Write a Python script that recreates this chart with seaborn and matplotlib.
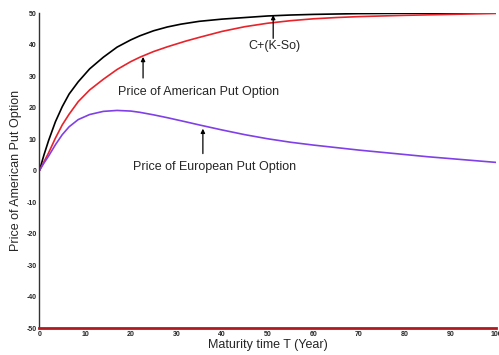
import numpy as np
import pandas as pd
import seaborn as sns
import matplotlib.pyplot as plt
from matplotlib.ticker import FuncFormatter

sns.set_style('white')
plt.rcParams['font.family'] = ['Liberation Sans', 'DejaVu Sans']

# values
bound_t = [0, 1, 2, 3.5, 5, 6.5, 8.5, 11, 14, 17, 20, 22, 25, 28, 31, 35, 40, 45, 50, 55, 60, 70, 80, 90, 100]
bound_p = [0, 5, 9.5, 15.5, 20.3, 24.3, 28.2, 32.3, 36, 39.2, 41.5, 42.8, 44.4, 45.6, 46.5, 47.4, 48.1,
           48.6, 49.1, 49.4, 49.6, 49.85, 49.95, 50, 50]

amer_t = [0, 2, 3.5, 5, 6.5, 8.5, 11, 14, 17, 20, 22, 25, 28, 32, 35, 40, 45, 50, 55, 60, 65, 70, 80, 90, 100]
amer_p = [0, 5.6, 10.3, 14.5, 17.9, 21.9, 25.6, 29, 32.1, 34.6, 36, 37.8, 39.3, 41.1, 42.3, 44.2, 45.7,
          46.8, 47.6, 48.2, 48.6, 48.9, 49.3, 49.6, 49.9]

euro_t = [0, 1, 2, 3.5, 5, 6.5, 8.5, 11, 14, 17, 20, 22, 25, 28, 32, 35, 40, 45, 50, 55, 60, 65, 70,
          75, 80, 85, 90, 95, 100]
euro_p = [0, 2.4, 4.6, 8.2, 11.4, 13.9, 16.2, 17.8, 18.8, 19.1, 18.9, 18.5, 17.7, 16.8, 15.5, 14.5, 12.9,
          11.4, 10.1, 9.0, 8.1, 7.3, 6.5, 5.8, 5.1, 4.4, 3.8, 3.2, 2.6]

names = ['C+(K-So)', 'American', 'European']
df = pd.concat([
    pd.DataFrame({'T': bound_t, 'price': bound_p, 'series': names[0]}),
    pd.DataFrame({'T': amer_t, 'price': amer_p, 'series': names[1]}),
    pd.DataFrame({'T': euro_t, 'price': euro_p, 'series': names[2]}),
])

fig = plt.figure(figsize=(4.99, 3.55), dpi=100)
ax = fig.add_axes([0.079, 0.076, 0.915, 0.887])
sns.lineplot(data=df, x='T', y='price', hue='series', sort=False,
             palette={names[0]: 'black', names[1]: '#e8232a', names[2]: '#8040e8'},
             linewidth=1.2, legend=False, ax=ax)

ax.set_xlim(0, 100)
ax.set_ylim(-50, 50)
ax.set_xticks(range(0, 101, 10))
ax.set_yticks(range(-50, 51, 10))
ax.yaxis.set_major_formatter(FuncFormatter(lambda v, p: '%d' % v))
ax.tick_params(direction='in', length=3, labelsize=5, width=0.8, pad=2)
for lab in ax.get_xticklabels() + ax.get_yticklabels():
    lab.set_fontweight('bold')
sns.despine(ax=ax)
ax.spines['left'].set_color('#333333')
ax.spines['left'].set_linewidth(1.0)
ax.spines['bottom'].set_color('#b0191e')
ax.spines['bottom'].set_linewidth(2.0)

ax.set_xlabel('Maturity time T (Year)', fontsize=9, labelpad=1)
ax.set_ylabel('Price of American Put Option', fontsize=9, labelpad=3)

# labels with vertical arrows
arrow = dict(arrowstyle='-|>', color='black', lw=0.9, mutation_scale=6, shrinkA=0, shrinkB=0)
notes = [
    ('C+(K-So)', 51.4, 39.5, 51.2, 42.0, 49.4),
    ('Price of American Put Option', 34.9, 25.0, 22.7, 29.4, 36.1),
    ('Price of European Put Option', 38.4, 1.0, 35.8, 5.4, 13.3),
]
for txt, tx, ty, ax_x, y0, y1 in notes:
    ax.text(tx, ty, txt, ha='center', va='center', fontsize=9)
    ax.annotate('', xy=(ax_x, y1), xytext=(ax_x, y0), arrowprops=arrow)

fig.savefig('out.png', dpi=100)
